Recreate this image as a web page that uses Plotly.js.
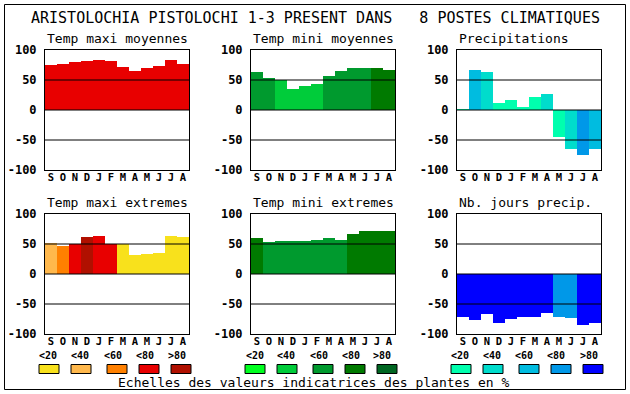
<!DOCTYPE html>
<html><head><meta charset="utf-8">
<script src="https://cdn.plot.ly/plotly-3.0.1.min.js"></script>
<style>html,body{margin:0;padding:0;background:#fff}#chart{width:630px;height:394px}</style>
</head><body><div id="chart"></div>
<script>
// ---- data ----
const months = ["S","O","N","D","J","F","M","A","M","J","J","A"];
const yTickVals = [100, 50, 0, -50, -100];
const yTickText = ["100", "50", "0", "-50", "-100"];
const legendLabels = ["&lt;20", "&lt;40", "&lt;60", "&lt;80", "&gt;80"];

const tmaxMoy = [75.5, 77, 80.5, 82, 84, 82, 72, 65.5, 70.5, 74, 84, 77];
const tminMoy = [64, 54, 50, 35.5, 40.5, 44, 57, 65.5, 70.5, 70.5, 70.5, 67];
const precip  = [1.5, 67, 64, 12, 17, 5, 22, 27, -45.5, -65.5, -75.5, -65.5];
const tmaxExt = [51.5, 46.5, 49.5, 61.5, 63.5, 49.5, 49.5, 31.5, 33, 35, 63.5, 61];
const tminExt = [60, 53.5, 55, 55, 55, 57, 60, 57, 67, 71.5, 71.5, 71.5];
const nbJours = [-71.5, -76.5, -66.5, -81.5, -75, -71.5, -71.5, -65, -71.5, -73, -85, -81.5];

// indicator class per bar (0:<20 ... 4:>80)
const tmaxMoyCls = [3,3,3,3,3,3,3,3,3,3,3,3];
const tminMoyCls = [2,2,1,1,1,1,2,2,2,2,3,3];
const precipCls  = [0,2,1,0,0,0,0,1,0,1,3,2];
const tmaxExtCls = [1,2,3,4,3,3,0,0,0,0,0,0];
const tminExtCls = [3,2,2,2,2,2,2,2,3,3,3,3];
const nbJoursCls = [4,4,4,4,4,4,4,4,3,3,4,4];

const titles = ["Temp maxi moyennes","Temp mini moyennes","Precipitations",
                "Temp maxi extremes","Temp mini extremes","Nb. jours precip."];
const mainTitle = "ARISTOLOCHIA PISTOLOCHI 1-3 PRESENT DANS   8 POSTES CLIMATIQUES";
const footer = "Echelles des valeurs indicatrices des plantes en %";

// ---- styling ----
const reds   = ["#f8e11c","#ffb84c","#ff8000","#e80000","#b01000"];
const greens = ["#00ff20","#00cc3a","#009a2e","#007a00","#006622"];
const blues  = ["#00ffae","#00dccc","#00bce0","#0098e8","#0000ff"];

const W = 630, H = 394;
const px = x => x / W;
const py = y => 1 - y / H;
const mono = "DejaVu Sans Mono, monospace";

const panels = [
  {vals: tmaxMoy, cls: tmaxMoyCls, pal: reds,   x0: 45,  y0: 50},
  {vals: tminMoy, cls: tminMoyCls, pal: greens, x0: 251, y0: 50},
  {vals: precip,  cls: precipCls,  pal: blues,  x0: 457, y0: 50},
  {vals: tmaxExt, cls: tmaxExtCls, pal: reds,   x0: 45,  y0: 214},
  {vals: tminExt, cls: tminExtCls, pal: greens, x0: 251, y0: 214},
  {vals: nbJours, cls: nbJoursCls, pal: blues,  x0: 457, y0: 214}
];
const PW = 144, PH = 120;

const data = [];
const layout = {
  width: W, height: H, autosize: false,
  margin: {l: 0, r: 0, t: 0, b: 0, pad: 0},
  paper_bgcolor: "#fff", plot_bgcolor: "#fff",
  showlegend: false, bargap: 0,
  font: {family: mono, color: "#000"},
  shapes: [], annotations: []
};

const idx = months.map((m, i) => i);

panels.forEach((p, k) => {
  const n = k + 1;
  const xa = n === 1 ? "x" : "x" + n;
  const ya = n === 1 ? "y" : "y" + n;
  data.push({
    type: "bar", x: idx, y: p.vals, xaxis: xa, yaxis: ya,
    marker: {color: p.cls.map(c => p.pal[c]), line: {width: 0}},
    width: 1, hoverinfo: "skip"
  });
  layout["xaxis" + (n === 1 ? "" : n)] = {
    domain: [px(p.x0), px(p.x0 + PW)], anchor: ya,
    range: [-0.5, 11.5], fixedrange: true,
    tickvals: idx, ticktext: months, ticks: "", ticklen: 0,
    tickfont: {family: mono, size: 10.5, weight: "bold", color: "#000"},
    ticklabelstandoff: -3,
    showgrid: false, zeroline: false,
    showline: true, mirror: true, linecolor: "#000", linewidth: 1
  };
  layout["yaxis" + (n === 1 ? "" : n)] = {
    domain: [py(p.y0 + PH), py(p.y0)], anchor: xa,
    range: [-100, 100], fixedrange: true,
    tickvals: yTickVals, ticktext: yTickText, ticks: "",
    tickfont: {family: mono, size: 12, weight: "bold", color: "#000"},
    ticklabelstandoff: 5,
    showgrid: false, zeroline: false,
    showline: true, mirror: true, linecolor: "#000", linewidth: 1
  };
  [50, 0, -50].forEach(v => {
    layout.shapes.push({type: "line", layer: "above",
      xref: xa + " domain", yref: ya, x0: 0, x1: 1, y0: v, y1: v,
      line: {color: "#000", width: 1}});
  });
  layout.annotations.push({
    text: titles[k], xref: "paper", yref: "paper",
    x: px(p.x0), y: py(p.y0 - 11.5), xanchor: "left", yanchor: "middle",
    showarrow: false, font: {family: mono, size: 13, color: "#000"}
  });
});

// main title
layout.annotations.push({
  text: mainTitle, xref: "paper", yref: "paper", x: px(315), y: py(18),
  xanchor: "center", yanchor: "middle", showarrow: false,
  font: {family: mono, size: 15, color: "#000"}
});
// footer
layout.annotations.push({
  text: footer, xref: "paper", yref: "paper", x: px(314), y: py(382),
  xanchor: "center", yanchor: "middle", showarrow: false,
  font: {family: mono, size: 13, color: "#000"}
});

// colour scales
const legendGroups = [
  {pal: reds,   labels: [48,80,113,145,177], boxes: [49,81,117,149,181]},
  {pal: greens, labels: [255,286,319,351,382], boxes: [255,287,323,355,387]},
  {pal: blues,  labels: [460,492,524,556,589], boxes: [461,493,529,561,593]}
];
legendGroups.forEach(g => {
  g.pal.forEach((c, i) => {
    layout.annotations.push({
      text: legendLabels[i], xref: "paper", yref: "paper",
      x: px(g.labels[i]), y: py(355), xanchor: "center", yanchor: "middle",
      showarrow: false, font: {family: mono, size: 10, weight: "bold", color: "#000"}
    });
    layout.shapes.push({type: "rect", xref: "paper", yref: "paper",
      x0: px(g.boxes[i] - 10), x1: px(g.boxes[i] + 10), y0: py(373.5), y1: py(364.5),
      fillcolor: c, line: {color: "#000", width: 1}});
  });
});

// outer frame
layout.shapes.push({type: "rect", xref: "paper", yref: "paper",
  x0: px(4.5), x1: px(625.5), y0: py(389.5), y1: py(4.5),
  line: {color: "#000", width: 1}, fillcolor: "rgba(0,0,0,0)"});

Plotly.newPlot("chart", data, layout, {staticPlot: true, displayModeBar: false});
</script>
</body></html>
